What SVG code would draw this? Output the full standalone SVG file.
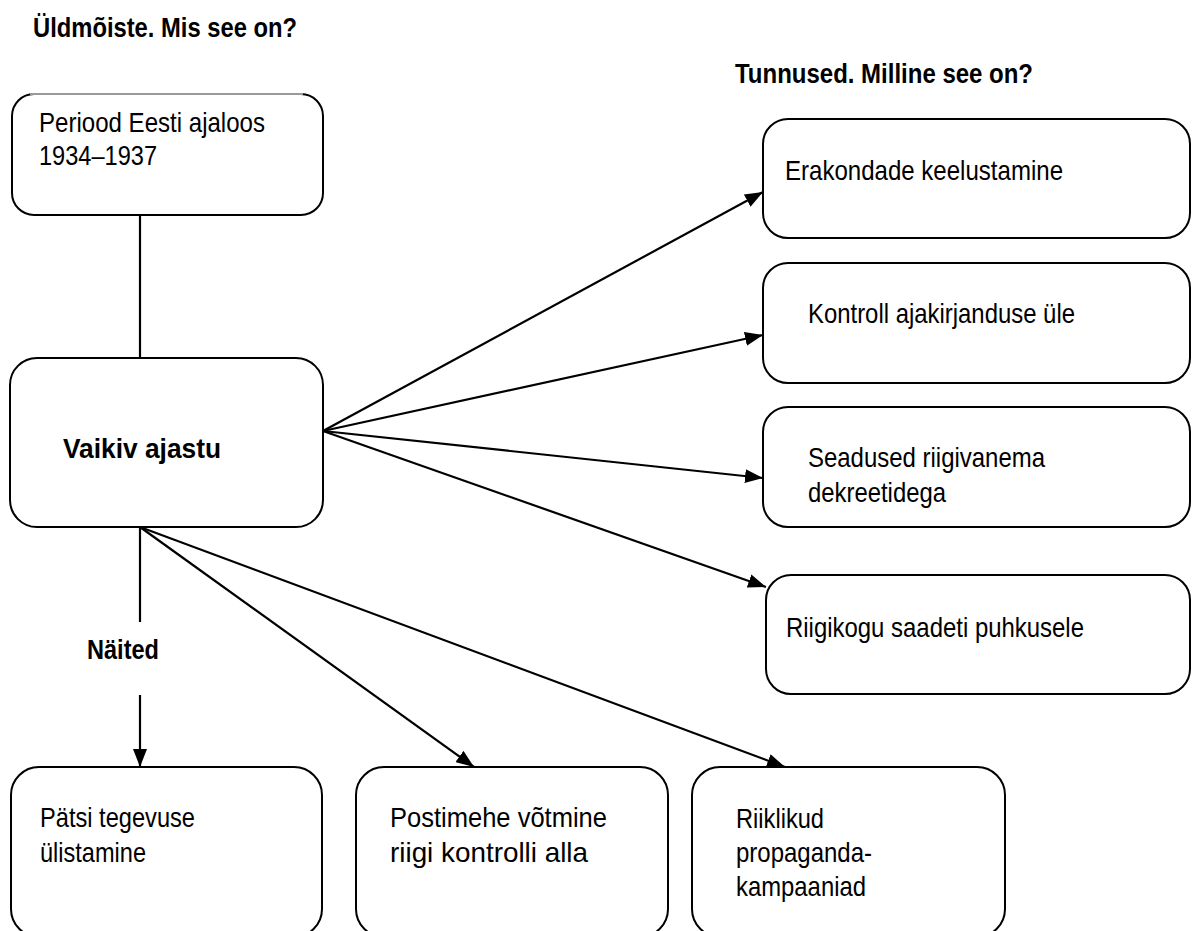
<svg xmlns="http://www.w3.org/2000/svg" width="1192" height="931" viewBox="0 0 1192 931">
<style>
.box{fill:#fff;stroke:#000;stroke-width:2}
.t{font-family:"Liberation Sans",Arial,sans-serif;font-size:28.5px;fill:#000}
.b{font-weight:bold}
.c{fill:none;stroke:#000;stroke-width:2.2}
</style>
<defs>
<marker id="ah" viewBox="0 0 18 14" refX="18" refY="7" markerWidth="18" markerHeight="14" markerUnits="userSpaceOnUse" orient="auto">
<path d="M0,0 L18,7 L0,14 z" fill="#000"/>
</marker>
</defs>
<rect width="1192" height="931" fill="#fff"/>
<text class="t b" x="33" y="37" textLength="264" lengthAdjust="spacingAndGlyphs">Üldmõiste. Mis see on?</text>
<text class="t b" x="735" y="83" textLength="298" lengthAdjust="spacingAndGlyphs">Tunnused. Milline see on?</text>
<text class="t b" x="87" y="659" textLength="72" lengthAdjust="spacingAndGlyphs">Näited</text>

<g id="connectors">
<line class="c" x1="140" y1="215" x2="140" y2="358"/>
<line class="c" x1="323" y1="431" x2="763" y2="192" marker-end="url(#ah)"/>
<line class="c" x1="323" y1="431" x2="763" y2="335" marker-end="url(#ah)"/>
<line class="c" x1="323" y1="431" x2="763" y2="478" marker-end="url(#ah)"/>
<line class="c" x1="323" y1="431" x2="766" y2="587" marker-end="url(#ah)"/>
<line class="c" x1="140" y1="527" x2="140" y2="622"/>
<line class="c" x1="140" y1="695" x2="140" y2="767" marker-end="url(#ah)"/>
<line class="c" x1="140" y1="527" x2="474" y2="767" marker-end="url(#ah)"/>
<line class="c" x1="140" y1="527" x2="785" y2="767" marker-end="url(#ah)"/>
</g>

<g id="periood">
<rect class="box" x="12" y="94" width="311" height="121" rx="22"/>
<line x1="30" y1="94" x2="303" y2="94" stroke="#9a9a9a" stroke-width="2.2"/>
<text class="t" x="39" y="132" textLength="226" lengthAdjust="spacingAndGlyphs">Periood Eesti ajaloos</text>
<text class="t" x="39" y="165" textLength="118" lengthAdjust="spacingAndGlyphs">1934–1937</text>
</g>

<g id="vaikiv">
<rect class="box" x="10" y="358" width="313" height="169" rx="27"/>
<text class="t b" x="63" y="458" font-size="30" textLength="158" lengthAdjust="spacingAndGlyphs">Vaikiv ajastu</text>
</g>

<g id="erakondade">
<rect class="box" x="763" y="119" width="427" height="119" rx="25"/>
<text class="t" x="785" y="180" textLength="278" lengthAdjust="spacingAndGlyphs">Erakondade keelustamine</text>
</g>

<g id="kontroll">
<rect class="box" x="763" y="263" width="427" height="120" rx="25"/>
<text class="t" x="808" y="323" textLength="267" lengthAdjust="spacingAndGlyphs">Kontroll ajakirjanduse üle</text>
</g>

<g id="seadused">
<rect class="box" x="763" y="407" width="427" height="120" rx="25"/>
<text class="t" x="808" y="467" textLength="237" lengthAdjust="spacingAndGlyphs">Seadused riigivanema</text>
<text class="t" x="808" y="502" textLength="138" lengthAdjust="spacingAndGlyphs">dekreetidega</text>
</g>

<g id="riigikogu">
<rect class="box" x="766" y="575" width="424" height="119" rx="25"/>
<text class="t" x="786" y="637" textLength="298" lengthAdjust="spacingAndGlyphs">Riigikogu saadeti puhkusele</text>
</g>

<g id="patsi">
<rect class="box" x="11" y="767" width="311" height="170" rx="28"/>
<text class="t" x="40" y="827" textLength="155" lengthAdjust="spacingAndGlyphs">Pätsi tegevuse</text>
<text class="t" x="40" y="862" textLength="106" lengthAdjust="spacingAndGlyphs">ülistamine</text>
</g>

<g id="postimehe">
<rect class="box" x="356" y="767" width="312" height="170" rx="28"/>
<text class="t" x="390" y="827" textLength="217" lengthAdjust="spacingAndGlyphs">Postimehe võtmine</text>
<text class="t" x="390" y="862" textLength="198" lengthAdjust="spacingAndGlyphs">riigi kontrolli alla</text>
</g>

<g id="riiklikud">
<rect class="box" x="692" y="767" width="313" height="170" rx="28"/>
<text class="t" x="736" y="828" textLength="88" lengthAdjust="spacingAndGlyphs">Riiklikud</text>
<text class="t" x="736" y="862" textLength="136" lengthAdjust="spacingAndGlyphs">propaganda-</text>
<text class="t" x="736" y="896" textLength="130" lengthAdjust="spacingAndGlyphs">kampaaniad</text>
</g>
</svg>
